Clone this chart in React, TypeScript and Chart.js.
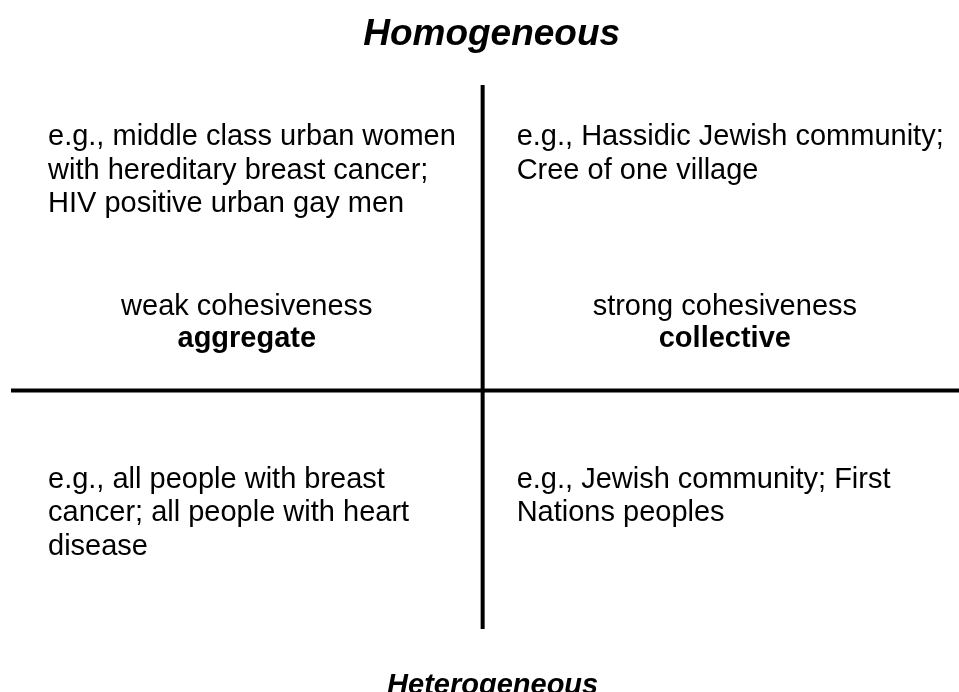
import React, { useEffect, useRef } from "react";
import { Chart, registerables } from "chart.js";

Chart.register(...registerables);

// ---- data ----
const axisLabels = ["Homogeneous", "Heterogeneous"];
const xExtent = [-1, 1.01];
const yExtent = [-0.78, 1];
const topLeftLines = [
  "e.g., middle class urban women",
  "with hereditary breast cancer;",
  "HIV positive urban gay men",
];
const topRightLines = ["e.g., Hassidic Jewish community;", "Cree of one village"];
const bottomLeftLines = [
  "e.g., all people with breast",
  "cancer; all people with heart",
  "disease",
];
const bottomRightLines = ["e.g., Jewish community; First", "Nations peoples"];
const cohesionLabels = ["weak cohesiveness", "strong cohesiveness"];
const groupLabels = ["aggregate", "collective"];

const FONT = "'Liberation Sans', Arial, Helvetica, sans-serif";

const textPlugin = {
  id: "quadrantText",
  afterDraw(chart: any) {
    const ctx = chart.ctx as CanvasRenderingContext2D;
    const xs = chart.scales.x;
    const ys = chart.scales.y;
    const cx = xs.getPixelForValue(0);
    const cy = ys.getPixelForValue(0);
    const left = xs.getPixelForValue(xExtent[0]);
    const right = chart.width;
    const top = ys.getPixelForValue(yExtent[1]);
    const lh = 33.5;
    ctx.save();
    ctx.fillStyle = "#000";
    ctx.textBaseline = "alphabetic";

    // titles
    ctx.textAlign = "center";
    ctx.font = `italic bold 37px ${FONT}`;
    ctx.fillText(axisLabels[0], cx + 9, 45);
    ctx.font = `italic bold 29px ${FONT}`;
    ctx.fillText(axisLabels[1], cx + 10, 694);

    // quadrant examples
    ctx.textAlign = "left";
    ctx.font = `29px ${FONT}`;
    const block = (lines: string[], x: number, y: number) =>
      lines.forEach((l, i) => ctx.fillText(l, x, y + i * lh));
    block(topLeftLines, left + 37, top + 60);
    block(topRightLines, cx + 34, top + 60);
    block(bottomLeftLines, left + 37, cy + 97);
    block(bottomRightLines, cx + 34, cy + 97);

    // cohesion labels
    ctx.textAlign = "center";
    const lc = (left + cx) / 2;
    const rc = (cx + right) / 2 + 4;
    ctx.font = `29px ${FONT}`;
    ctx.fillText(cohesionLabels[0], lc, cy - 76);
    ctx.fillText(cohesionLabels[1], rc, cy - 76);
    ctx.font = `bold 29px ${FONT}`;
    ctx.fillText(groupLabels[0], lc, cy - 44);
    ctx.fillText(groupLabels[1], rc, cy - 44);
    ctx.restore();
  },
};

export default function App() {
  const ref = useRef<HTMLCanvasElement>(null);
  useEffect(() => {
    document.body.style.margin = "0";
    const chart = new Chart(ref.current!, {
      type: "line",
      data: {
        datasets: [
          {
            data: [
              { x: xExtent[0], y: 0 },
              { x: xExtent[1], y: 0 },
            ],
            borderColor: "#000",
            borderWidth: 4,
            pointRadius: 0,
            clip: false as any,
            borderCapStyle: "butt",
          },
          {
            data: [
              { x: 0, y: yExtent[0] },
              { x: 0, y: yExtent[1] },
            ],
            borderColor: "#000",
            borderWidth: 4,
            pointRadius: 0,
            clip: false as any,
            borderCapStyle: "butt",
          },
        ],
      },
      options: {
        animation: false,
        responsive: false,
        layout: { padding: { left: 11, right: 0, top: 85, bottom: 63 } },
        scales: {
          x: { type: "linear", min: xExtent[0], max: xExtent[1], display: false },
          y: { type: "linear", min: yExtent[0], max: yExtent[1], display: false },
        },
        plugins: { legend: { display: false }, tooltip: { enabled: false }, title: { display: false } },
      },
      plugins: [textPlugin],
    });
    return () => chart.destroy();
  }, []);
  return (
    <div style={{ width: 959, height: 692, background: "#fff" }}>
      <canvas ref={ref} width={959} height={692} style={{ display: "block" }} />
    </div>
  );
}
